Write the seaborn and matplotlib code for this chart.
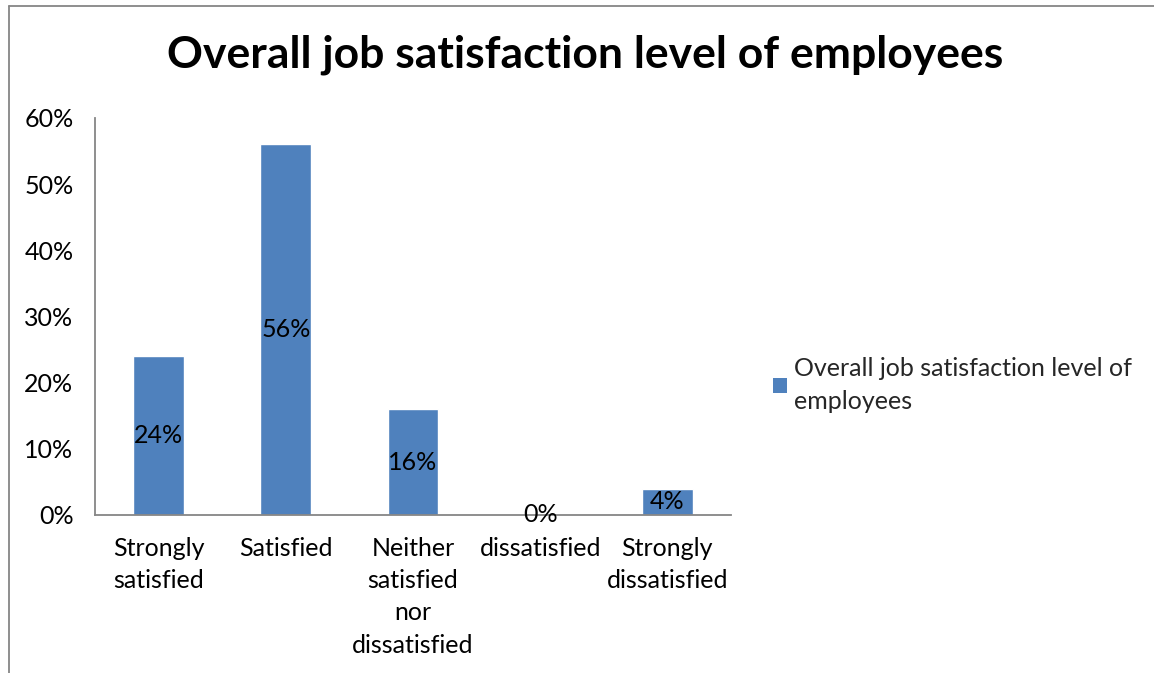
import matplotlib
matplotlib.use("Agg")
import matplotlib.pyplot as plt
from matplotlib.lines import Line2D
from matplotlib.patches import Patch
from matplotlib.ticker import FixedLocator, PercentFormatter
import seaborn as sns
import pandas as pd

categories = ["Strongly\nsatisfied", "Satisfied", "Neither\nsatisfied\nnor\ndissatisfied",
              "dissatisfied", "Strongly\ndissatisfied"]
values = [0.24, 0.56, 0.16, 0.0, 0.04]
series_name = "Overall job satisfaction level of employees"
yticks = [0.0, 0.1, 0.2, 0.3, 0.4, 0.5, 0.6]

sns.set_theme(style="white")
plt.rcParams["font.family"] = ["Lato", "DejaVu Sans"]

bar_color = "#4F81BD"
axis_gray = "#868686"
fs = 18

df = pd.DataFrame({"category": categories, "value": values})

fig = plt.figure(figsize=(11.54, 6.73), dpi=100)
ax = fig.add_axes([0.0823, 0.2348, 0.5511, 0.5899])

sns.barplot(data=df, x="category", y="value", color=bar_color, width=0.4,
            saturation=1, ax=ax)

ax.set_xlim(-0.5, len(categories) - 0.5)
ax.set_ylim(0, 0.6)
ax.set_yticks(yticks)
ax.yaxis.set_major_formatter(PercentFormatter(1.0, decimals=0))
ax.set_xlabel("")
ax.set_ylabel("")

# category boundaries carry the tick marks; labels sit at bar centres
ax.xaxis.set_minor_locator(FixedLocator([i - 0.5 for i in range(len(categories) + 1)]))
ax.tick_params(axis="x", which="major", length=0, pad=16, labelsize=fs, colors="black")
ax.tick_params(axis="x", which="minor", length=6, width=1.3, color=axis_gray, direction="out")
ax.tick_params(axis="y", which="major", length=6, width=1.3, color=axis_gray, direction="out",
               labelsize=fs, labelcolor="black", pad=9.5)
for lbl in ax.get_xticklabels():
    lbl.set_linespacing(1.48)

for side in ("top", "right"):
    ax.spines[side].set_visible(False)
for side in ("left", "bottom"):
    ax.spines[side].set_color(axis_gray)
    ax.spines[side].set_linewidth(1.3)

ax.bar_label(ax.containers[0], labels=[f"{v * 100:.0f}%" for v in values],
             label_type="center", fontsize=fs, color="black")

fig.suptitle(series_name, x=0.507, y=0.948, fontsize=32, fontweight="bold", color="black")

leg = fig.legend(handles=[Patch(facecolor=bar_color, edgecolor="none")],
                 labels=["Overall job satisfaction level of\nemployees"],
                 loc="center left", bbox_to_anchor=(0.661, 0.428), frameon=False,
                 fontsize=fs, handlelength=0.55, handleheight=0.55, handletextpad=0.3,
                 borderaxespad=0)
for t in leg.get_texts():
    t.set_linespacing(1.5)

# outer chart frame (left and top edges)
fig.add_artist(Line2D([0.0075, 0.0075], [0.0, 0.991], transform=fig.transFigure,
                      color=axis_gray, linewidth=1.3))
fig.add_artist(Line2D([0.0075, 1.0], [0.991, 0.991], transform=fig.transFigure,
                      color=axis_gray, linewidth=1.3))

fig.savefig("out.png", dpi=100, facecolor="white")
